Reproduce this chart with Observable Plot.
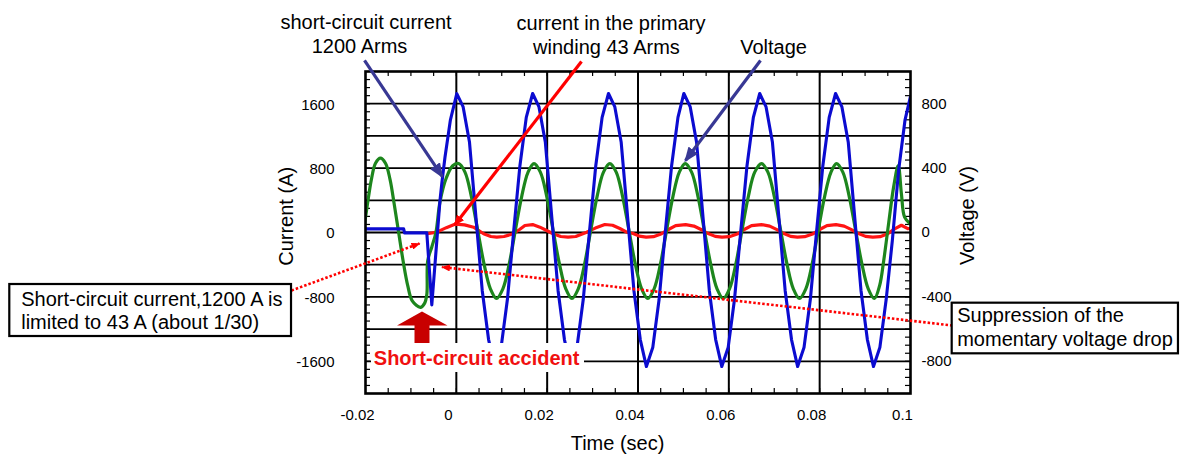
<!DOCTYPE html>
<html><head><meta charset="utf-8">
<script src="https://cdn.jsdelivr.net/npm/d3@7"></script>
<script src="https://cdn.jsdelivr.net/npm/@observablehq/plot@0.6"></script>
<style>body{margin:0;background:#fff}#chart svg{display:block}</style>
</head><body><div id="chart"></div>
<script>
// ---------- axis ticks ----------
const xTicks = [-0.02, 0, 0.02, 0.04, 0.06, 0.08, 0.1];
const xTickLabels = ["-0.02", "0", "0.02", "0.04", "0.06", "0.08", "0.1"];
const currentTicks = [-1600, -800, 0, 800, 1600];
const currentTickLabels = ["-1600", "-800", "0", "800", "1600"];
const voltageTicks = [-800, -400, 0, 400, 800];
const voltageTickLabels = ["-800", "-400", "0", "400", "800"];
const gridTimes = [0, 0.02, 0.04, 0.06, 0.08];
const gridCurrents = [-1600, -1200, -800, -400, 0, 400, 800, 1200, 1600];
const VOLT_TO_CURRENT_AXIS = 2; // right axis: 400 V sits where 800 A sits

// ---------- series: short-circuit current (A) ----------
const scTimeMs = [-20.5,-11.6,-11.4,-6.5,-5.4,-3.6,-3.2,-2.5,-1.3,
 0.1,1.5,2.9,4.3,5.7,7.1,8.45,9.85,11.25,12.6,14.0,15.4,
 16.8,18.2,19.6,21.0,22.4,23.8,25.15,26.55,27.95,29.3,30.7,32.1,
 33.5,34.9,36.3,37.7,39.1,40.5,41.85,43.25,44.65,46.0,47.4,48.8,
 50.1,51.5,52.9,54.3,55.7,57.1,58.45,59.85,61.25,62.6,64.0,65.4,
 66.8,68.2,69.6,71.0,72.4,73.8,75.15,76.55,77.95,79.3,80.7,82.1,
 83.5,84.9,86.3,87.7,89.1,90.5,91.85,93.25,94.65,96.0,97.4,98.8,100.0];
const scCurrentA = [45,45,-5,-5,-900,400,610,935,1400,
 1725,1560,1120,200,-720,-1330,-1665,-1430,-830,0,830,1430,
 1727,1560,1120,200,-720,-1330,-1665,-1430,-830,0,830,1430,
 1727,1560,1120,200,-720,-1330,-1665,-1430,-830,0,830,1430,
 1727,1560,1120,200,-720,-1330,-1665,-1430,-830,0,830,1430,
 1727,1560,1120,200,-720,-1330,-1665,-1430,-830,0,830,1430,
 1727,1560,1120,200,-720,-1330,-1665,-1430,-830,-100,780,1400,1690];

// ---------- series: voltage (V) ----------
const voltTimeMs = [-20.4,-19.6,-18.7,-17.8,-16.7,-15.6,-14.6,-13.7,-12.7,-11.7,-10.7,-9.7,-7.9,-7.0,-6.5,-6.3,-5.4,-4.5,-3.6,-2.2,-0.8,
 0.5,1.9,3.3,4.7,6.1,7.5,8.85,10.25,11.65,13.0,14.4,15.8,
 17.1,18.5,19.9,21.3,22.7,24.1,25.45,26.85,28.25,29.6,31.0,32.4,
 33.8,35.2,36.6,38.0,39.4,40.8,42.15,43.55,44.95,46.3,47.7,49.1,
 50.4,51.8,53.2,54.6,56.0,57.4,58.75,60.15,61.55,62.9,64.3,65.7,
 67.2,68.6,70.0,71.4,72.8,74.2,75.55,76.95,78.35,79.7,81.1,82.5,
 83.7,85.1,86.5,87.9,89.3,90.7,92.05,93.2,94.1,95.2,96.3,97.3,98.0,98.7,99.9];
const voltageV = [15,170,330,430,462,430,330,180,0,-180,-330,-425,-465,-440,-385,-175,-90,0,190,340,415,
 428,375,225,15,-195,-350,-410,-350,-195,15,225,375,
 428,375,225,15,-195,-350,-410,-350,-195,15,225,375,
 428,375,225,15,-195,-350,-410,-350,-195,15,225,375,
 428,375,225,15,-195,-350,-410,-350,-195,15,225,375,
 428,375,225,15,-195,-350,-410,-350,-195,15,225,375,
 428,375,225,15,-195,-350,-410,-330,-175,60,285,415,240,95,55];

// ---------- series: primary winding current (A) ----------
const priTimeMs = [-6.4,-4.3,-2.2,-0.2,1.8,3.8,6.0,7.6,8.9,10.5,12.5,14.0,15.1,16.8,18.4,20.2,21.3,23.0,24.6,26.3,28.7,30.6,32.7,34.4,36.0,37.5,38.9,40.3,41.8,43.4,45.2,46.8,48.3,50.5,52.3,54.0,55.3,57.0,58.5,60.1,62.0,63.5,65.0,67.2,69.0,70.6,72.0,73.6,75.1,76.7,78.6,80.1,81.6,83.6,85.4,87.0,88.4,90.1,91.7,93.3,95.0,96.5,98.0,99.4,100.0];
const priCurrentA = [-15,5,60,105,95,66,-16,-50,-58,-50,-16,40,87,98,66,15,-16,-50,-58,-50,4,55,99,90,50,5,-12,-45,-58,-52,-15,40,85,98,80,35,-10,-48,-58,-52,-15,40,85,98,80,35,-10,-48,-58,-52,-15,40,85,98,80,35,-10,-48,-58,-52,-15,45,90,48,50];

// ---------- annotations (in data units: time s, current A) ----------
const headerNotes = [
  {t: -0.01989, a: 2522, text: "short-circuit current"},
  {t: -0.02132, a: 2224, text: "1200 Arms"},
  {t: 0.03406, a: 2518, text: "current in the primary"},
  {t: 0.03306, a: 2220, text: "winding 43 Arms"},
  {t: 0.06984, a: 2220, text: "Voltage"}
];
const slateArrows = [
  {t1: -0.02022, a1: 2137, t2: -0.00311, a2: 696},
  {t1: 0.06697, a1: 2137, t2: 0.05046, a2: 894}
];
const redArrows = [{t1: 0.02756, a1: 2124, t2: -0.00029, a2: 99}];
const dottedArrows = [
  {t1: -0.03629, a1: -720, t2: -0.00811, a2: -137},
  {t1: 0.10924, a1: -1155, t2: -0.00316, a2: -429}
];
const noteBoxes = [
  {t1: -0.09832, t2: -0.03629, a1: -646, a2: -1292},
  {t1: 0.10918, t2: 0.15900, a1: -878, a2: -1507}
];
const boxLines = [
  {t: -0.09581, a: -907, text: "Short-circuit current,1200 A is"},
  {t: -0.09581, a: -1193, text: "limited to 43 A (about 1/30)"},
  {t: 0.11028, a: -1114, text: "Suppression of the"},
  {t: 0.11028, a: -1404, text: "momentary voltage drop"}
];
const accidentBg = [{t1: -0.01868, t2: 0.02822, a1: -1379, a2: -1739}];
const accidentLabel = [{t: -0.01817, a: -1640, text: "Short-circuit accident"}];
const bigArrow = [
  {t: -0.00756, a: -981}, {t: -0.00194, a: -1155}, {t: -0.00591, a: -1155},
  {t: -0.00591, a: -1391}, {t: -0.00921, a: -1391}, {t: -0.00921, a: -1155},
  {t: -0.01306, a: -1155}
];
const axisTitles = [
  {t: -0.03586, a: 201, text: "Current (A)", rotate: -90},
  {t: 0.11405, a: 211, text: "Voltage (V)", rotate: -90},
  {t: 0.03549, a: -2696, text: "Time (sec)", rotate: 0}
];

// ---------- build tables ----------
const sc = scTimeMs.map((t, i) => ({t: t / 1000, a: scCurrentA[i]}));
const volt = voltTimeMs.map((t, i) => ({t: t / 1000, a: voltageV[i] * VOLT_TO_CURRENT_AXIS}));
const pri = priTimeMs.map((t, i) => ({t: t / 1000, a: priCurrentA[i]}));

const W = 1180, H = 454;
const M = {left: 365, right: 270, top: 71, bottom: 61};
const xDomain = [-0.02, 0.1], yDomain = [-2000, 2000];
const pxPerSec = (W - M.left - M.right) / (xDomain[1] - xDomain[0]);
const pxPerAmp = (H - M.top - M.bottom) / (yDomain[1] - yDomain[0]);
const TICK = 5;
const minorX = d3.range(-3, 20).map(i => i * 0.005);
const minorY = d3.range(-19, 20).map(i => i * 100);
const FONT = "'Liberation Sans', Arial, Helvetica, sans-serif";

const plot = Plot.plot({
  width: W, height: H,
  marginLeft: M.left, marginRight: M.right, marginTop: M.top, marginBottom: M.bottom,
  x: {domain: xDomain, axis: null},
  y: {domain: yDomain, axis: null},
  style: {fontFamily: FONT, background: "#fff", color: "#000", overflow: "visible"},
  marks: [
    Plot.ruleY(gridCurrents, {stroke: "#000", strokeWidth: 1.8}),
    Plot.ruleX(gridTimes, {stroke: "#000", strokeWidth: 2}),
    Plot.ruleY(minorY, {x1: xDomain[0], x2: xDomain[0] + TICK / pxPerSec, stroke: "#000", strokeWidth: 1.2}),
    Plot.ruleY(minorY, {x1: xDomain[1] - TICK / pxPerSec, x2: xDomain[1], stroke: "#000", strokeWidth: 1.2}),
    Plot.ruleX(minorX, {y1: yDomain[0], y2: yDomain[0] + TICK / pxPerAmp, stroke: "#000", strokeWidth: 1.2}),
    Plot.ruleX(minorX, {y1: yDomain[1] - TICK / pxPerAmp, y2: yDomain[1], stroke: "#000", strokeWidth: 1.2}),
    Plot.line(pri, {x: "t", y: "a", stroke: "#ff1414", strokeWidth: 3.2, strokeLinejoin: "round", clip: true}),
    Plot.line(volt, {x: "t", y: "a", stroke: "#1d861d", strokeWidth: 3.2, strokeLinejoin: "round", curve: "catmull-rom", clip: true}),
    Plot.line(sc, {x: "t", y: "a", stroke: "#0b0bd0", strokeWidth: 3.1, strokeLinejoin: "round", clip: true}),
    Plot.frame({stroke: "#000", strokeWidth: 2.6}),
    Plot.axisX(xTicks, {anchor: "bottom", tickSize: 0, tickPadding: 16, dx: -8, fontSize: 15,
      tickFormat: d => xTickLabels[xTicks.indexOf(d)]}),
    Plot.axisY(currentTicks, {anchor: "left", tickSize: 0, tickPadding: 31, fontSize: 15, dy: 1,
      tickFormat: d => currentTickLabels[currentTicks.indexOf(d)]}),
    Plot.axisY(voltageTicks.map(v => v * VOLT_TO_CURRENT_AXIS), {anchor: "right", tickSize: 0, tickPadding: 11, fontSize: 15,
      tickFormat: d => voltageTickLabels[voltageTicks.indexOf(d / VOLT_TO_CURRENT_AXIS)]}),
    Plot.line(bigArrow, {x: "t", y: "a", fill: "#c80000", stroke: "none"}),
    Plot.rect(accidentBg, {x1: "t1", x2: "t2", y1: "a1", y2: "a2", fill: "#fff"}),
    Plot.text(accidentLabel, {x: "t", y: "a", text: "text", textAnchor: "start", lineAnchor: "bottom",
      fontSize: 20, fontWeight: "bold", fill: "#f01010"}),
    Plot.link(slateArrows, {x1: "t1", y1: "a1", x2: "t2", y2: "a2", stroke: "#383894", strokeWidth: 3.2}),
    Plot.link(redArrows, {x1: "t1", y1: "a1", x2: "t2", y2: "a2", stroke: "#ff0000", strokeWidth: 3.2}),
    Plot.link(dottedArrows, {x1: "t1", y1: "a1", x2: "t2", y2: "a2", stroke: "#ff0000", strokeWidth: 2.6, strokeDasharray: "2.5,2"}),
    Plot.rect(noteBoxes, {x1: "t1", x2: "t2", y1: "a1", y2: "a2", fill: "#fff", stroke: "#000", strokeWidth: 2.2}),
    Plot.text(boxLines, {x: "t", y: "a", text: "text", textAnchor: "start", lineAnchor: "bottom", fontSize: 20, fill: "#000"}),
    Plot.text(headerNotes, {x: "t", y: "a", text: "text", textAnchor: "middle", lineAnchor: "bottom", fontSize: 20, fill: "#000"}),
    Plot.text(axisTitles, {x: "t", y: "a", text: "text", rotate: "rotate", textAnchor: "middle", lineAnchor: "bottom", fontSize: 20, fill: "#000"})
  ]
});

// filled arrowheads
const svg = d3.select(plot);
const defs = svg.insert("defs", ":first-child");
function marker(id, color, len, wid, back) {
  defs.append("marker").attr("id", id).attr("markerUnits", "userSpaceOnUse")
    .attr("viewBox", `0 0 ${len} ${wid}`).attr("markerWidth", len).attr("markerHeight", wid)
    .attr("refX", len - back).attr("refY", wid / 2).attr("orient", "auto")
    .append("path").attr("d", `M0,0L${len},${wid / 2}L0,${wid}Z`).attr("fill", color).attr("stroke", "none");
}
marker("head-slate", "#383894", 15, 12, 2);
marker("head-red", "#ff0000", 11, 9, 2);
marker("head-dot", "#ff0000", 9, 7, 1);
const heads = ["head-slate", "head-red", "head-dot"];
svg.selectAll('g[aria-label="link"]').each(function (_, i) {
  d3.select(this).selectAll("path").attr("marker-end", `url(#${heads[i]})`);
});
document.getElementById("chart").append(plot);
</script>
</body></html>
